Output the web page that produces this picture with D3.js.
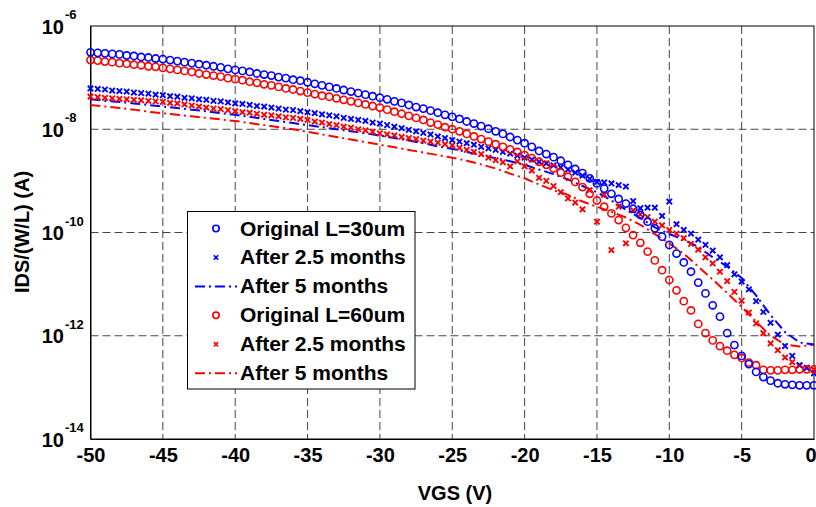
<!DOCTYPE html>
<html>
<head>
<meta charset="utf-8">
<script src="https://cdn.jsdelivr.net/npm/d3@7/dist/d3.min.js"></script>
<style>
  html, body { margin: 0; padding: 0; background: #fff; }
  svg text { font-family: "Liberation Sans", Arial, sans-serif; font-weight: bold; fill: #000; }
</style>
</head>
<body>
<svg id="chart" width="816" height="507"></svg>
<script>
// ---- Data (values are log10 of IDS/(W/L) in A) ----
const vgsHalf = [-50,-49.5,-49,-48.5,-48,-47.5,-47,-46.5,-46,-45.5,
  -45,-44.5,-44,-43.5,-43,-42.5,-42,-41.5,-41,-40.5,
  -40,-39.5,-39,-38.5,-38,-37.5,-37,-36.5,-36,-35.5,
  -35,-34.5,-34,-33.5,-33,-32.5,-32,-31.5,-31,-30.5,
  -30,-29.5,-29,-28.5,-28,-27.5,-27,-26.5,-26,-25.5,
  -25,-24.5,-24,-23.5,-23,-22.5,-22,-21.5,-21,-20.5,
  -20,-19.5,-19,-18.5,-18,-17.5,-17,-16.5,-16,-15.5,
  -15,-14.5,-14,-13.5,-13,-12.5,-12,-11.5,-11,-10.5,
  -10,-9.5,-9,-8.5,-8,-7.5,-7,-6.5,-6,-5.5,
  -5,-4.5,-4,-3.5,-3,-2.5,-2,-1.5,-1,-0.5,0];

const vgsStep = [-50,-49,-48,-47,-46,-45,-44,-43,-42,-41,
  -40,-39,-38,-37,-36,-35,-34,-33,-32,-31,
  -30,-29,-28,-27,-26,-25,-24,-23,-22,-21,
  -20,-19,-18,-17,-16,-15,-14,-13,-12,-11,
  -10,-9,-8,-7,-6,-5,-4,-3,-2,-1,0];

// L=30um, original (circles)
const origL30 = [-6.51,-6.52,-6.53,-6.54,-6.55,-6.57,-6.58,-6.60,-6.61,-6.63,
  -6.64,-6.66,-6.68,-6.70,-6.72,-6.74,-6.76,-6.78,-6.80,-6.83,
  -6.85,-6.87,-6.89,-6.92,-6.94,-6.96,-6.99,-7.01,-7.04,-7.06,
  -7.09,-7.12,-7.15,-7.18,-7.21,-7.24,-7.27,-7.30,-7.33,-7.36,
  -7.39,-7.42,-7.46,-7.49,-7.53,-7.57,-7.60,-7.64,-7.68,-7.72,
  -7.76,-7.80,-7.85,-7.89,-7.94,-7.99,-8.04,-8.09,-8.15,-8.21,
  -8.27,-8.34,-8.42,-8.48,-8.54,-8.61,-8.69,-8.77,-8.85,-8.95,
  -9.05,-9.15,-9.25,-9.35,-9.44,-9.54,-9.66,-9.79,-9.92,-10.08,
  -10.24,-10.41,-10.58,-10.76,-10.97,-11.18,-11.41,-11.63,-11.95,-12.18,
  -12.39,-12.55,-12.70,-12.80,-12.87,-12.92,-12.94,-12.95,-12.96,-12.96,-12.96];

// L=30um, after 2.5 months (crosses)
const after25L30 = [-7.21,-7.22,-7.23,-7.25,-7.26,-7.27,-7.29,-7.30,-7.31,-7.33,
  -7.34,-7.36,-7.37,-7.39,-7.40,-7.42,-7.43,-7.45,-7.46,-7.48,
  -7.50,-7.51,-7.53,-7.55,-7.56,-7.58,-7.60,-7.62,-7.63,-7.65,
  -7.67,-7.69,-7.71,-7.73,-7.75,-7.78,-7.80,-7.82,-7.84,-7.87,
  -7.89,-7.92,-7.95,-7.98,-8.01,-8.04,-8.07,-8.10,-8.14,-8.17,
  -8.21,-8.24,-8.27,-8.30,-8.34,-8.37,-8.40,-8.44,-8.47,-8.51,
  -8.55,-8.59,-8.63,-8.66,-8.70,-8.74,-8.78,-8.84,-8.90,-8.96,
  -9.02,-9.03,-9.05,-9.08,-9.11,-9.39,-9.53,-9.52,-9.52,-9.68,
  -9.40,-9.84,-9.95,-10.02,-10.14,-10.24,-10.35,-10.48,-10.63,-10.81,
  -10.95,-11.10,-11.33,-11.54,-11.75,-11.98,-12.20,-12.39,-12.57,-12.62,-12.73];

// L=30um, after 5 months (dash-dot line)
const after5L30 = [-7.42,-7.45,-7.47,-7.50,-7.53,-7.56,-7.59,-7.62,-7.65,-7.69,
  -7.72,-7.76,-7.80,-7.84,-7.88,-7.92,-7.96,-8.00,-8.04,-8.08,
  -8.12,-8.17,-8.22,-8.27,-8.33,-8.38,-8.44,-8.50,-8.56,-8.62,
  -8.69,-8.78,-8.87,-8.97,-9.10,-9.22,-9.38,-9.56,-9.72,-9.90,
  -10.03,-10.14,-10.28,-10.48,-10.66,-10.88,-11.22,-11.60,-11.93,-12.13,-12.17];

// L=60um, original (circles)
const origL60 = [-6.66,-6.67,-6.69,-6.70,-6.72,-6.73,-6.75,-6.76,-6.78,-6.79,
  -6.81,-6.83,-6.85,-6.87,-6.89,-6.92,-6.94,-6.96,-6.98,-7.01,
  -7.03,-7.05,-7.08,-7.10,-7.13,-7.15,-7.18,-7.21,-7.23,-7.26,
  -7.29,-7.32,-7.35,-7.37,-7.40,-7.43,-7.46,-7.49,-7.52,-7.55,
  -7.58,-7.62,-7.66,-7.70,-7.74,-7.78,-7.82,-7.87,-7.91,-7.96,
  -8.00,-8.04,-8.09,-8.14,-8.19,-8.24,-8.29,-8.34,-8.39,-8.44,
  -8.50,-8.56,-8.63,-8.69,-8.76,-8.84,-8.92,-9.02,-9.12,-9.25,
  -9.38,-9.50,-9.63,-9.76,-9.91,-10.05,-10.20,-10.37,-10.54,-10.73,
  -10.92,-11.12,-11.33,-11.51,-11.77,-11.95,-12.09,-12.20,-12.29,-12.37,
  -12.43,-12.52,-12.57,-12.66,-12.67,-12.67,-12.66,-12.66,-12.65,-12.65,-12.65];

// L=60um, after 2.5 months (crosses)
const after25L60 = [-7.37,-7.38,-7.39,-7.40,-7.41,-7.42,-7.43,-7.44,-7.45,-7.46,
  -7.47,-7.49,-7.50,-7.52,-7.54,-7.56,-7.58,-7.60,-7.61,-7.63,
  -7.65,-7.67,-7.68,-7.70,-7.72,-7.73,-7.75,-7.77,-7.78,-7.80,
  -7.82,-7.85,-7.87,-7.90,-7.92,-7.95,-7.97,-8.00,-8.02,-8.05,
  -8.08,-8.10,-8.12,-8.15,-8.17,-8.19,-8.22,-8.24,-8.26,-8.29,
  -8.31,-8.36,-8.40,-8.44,-8.48,-8.55,-8.60,-8.64,-8.72,-8.62,
  -8.72,-8.80,-8.94,-9.00,-9.10,-9.22,-9.34,-9.42,-9.55,-9.18,
  -9.79,-9.27,-10.34,-9.50,-10.21,-9.57,-9.65,-9.70,-9.79,-9.86,
  -9.95,-10.02,-10.11,-10.22,-10.33,-10.48,-10.60,-10.76,-10.94,-11.15,
  -11.32,-11.55,-11.76,-11.95,-12.15,-12.28,-12.42,-12.51,-12.57,-12.62,-12.66];

// L=60um, after 5 months (dash-dot line)
const after5L60 = [-7.53,-7.56,-7.59,-7.62,-7.66,-7.69,-7.72,-7.75,-7.78,-7.81,
  -7.84,-7.88,-7.92,-7.96,-8.00,-8.05,-8.10,-8.15,-8.20,-8.25,
  -8.30,-8.35,-8.40,-8.45,-8.50,-8.55,-8.61,-8.68,-8.76,-8.86,
  -8.95,-9.07,-9.18,-9.27,-9.40,-9.50,-9.60,-9.71,-9.85,-10.03,
  -10.21,-10.41,-10.66,-10.91,-11.17,-11.44,-11.73,-12.00,-12.17,-12.21,-12.17];

const xTicks = [-50,-45,-40,-35,-30,-25,-20,-15,-10,-5,0];
const yTickExps = [-6,-8,-10,-12,-14];
const legendLabels = ["Original L=30um","After 2.5 months","After 5 months",
                      "Original L=60um","After 2.5 months","After 5 months"];

// ---- Drawing ----
const svg = d3.select("#chart");
const x = d3.scaleLinear().domain([-50, 0]).range([90.5, 814]);
const y = d3.scaleLog().domain([1e-14, 1e-6]).range([439, 26]);
const BLUE = "#0000ff", RED = "#ff0000";

// grid
const grid = svg.append("g").attr("stroke", "#444").attr("stroke-width", 1)
  .attr("stroke-dasharray", "8,4").attr("fill", "none");
xTicks.slice(1, -1).forEach(t => {
  grid.append("line").attr("x1", x(t)).attr("x2", x(t)).attr("y1", y(1e-6)).attr("y2", y(1e-14));
});
yTickExps.slice(1, -1).forEach(e => {
  grid.append("line").attr("x1", x(-50)).attr("x2", x(0)).attr("y1", y(Math.pow(10, e))).attr("y2", y(Math.pow(10, e)));
});

// axes (bottom / left via d3 axes, with labels drawn separately)
const xAxis = d3.axisBottom(x).tickValues(xTicks).tickSize(0).tickFormat(d3.format("d"));
const gx = svg.append("g").attr("transform", `translate(0,${y(1e-14)})`).call(xAxis);
gx.select(".domain").attr("stroke", "#000");
gx.selectAll("text").attr("font-size", 20).attr("dy", 0).attr("y", 23)
  .text(d => d === 0 ? "0" : String(d))
  .attr("text-anchor", d => d === 0 ? "end" : "middle")
  .attr("x", d => d === 0 ? 2 : 0);

const yAxis = d3.axisLeft(y).tickValues(yTickExps.map(e => Math.pow(10, e))).tickSize(0).tickFormat("");
const gy = svg.append("g").attr("transform", `translate(${x(-50)},0)`).call(yAxis);
gy.select(".domain").attr("stroke", "#000");
yTickExps.forEach(e => {
  const yy = y(Math.pow(10, e));
  svg.append("text").attr("x", 64).attr("y", yy + 7.5).attr("text-anchor", "end")
    .attr("font-size", 20).text("10");
  svg.append("text").attr("x", 65).attr("y", yy - 7).attr("text-anchor", "start")
    .attr("font-size", 13).text(String(e));
});

// frame (top and right)
svg.append("rect").attr("x", x(-50)).attr("y", y(1e-6))
  .attr("width", x(0) - x(-50)).attr("height", y(1e-14) - y(1e-6))
  .attr("fill", "none").attr("stroke", "#000").attr("stroke-width", 1);

// series helpers
function pts(xs, logs) { return xs.map((v, i) => ({ v, i: Math.pow(10, logs[i]) })); }
const line = d3.line().x(d => x(d.v)).y(d => y(d.i));
const DASHDOT = "10,4,2,4";

function drawLine(xs, logs, color) {
  svg.append("path").datum(pts(xs, logs)).attr("d", line)
    .attr("fill", "none").attr("stroke", color).attr("stroke-width", 2)
    .attr("stroke-dasharray", DASHDOT);
}
function drawCircles(xs, logs, color) {
  svg.append("g").selectAll("circle").data(pts(xs, logs)).join("circle")
    .attr("cx", d => x(d.v)).attr("cy", d => y(d.i)).attr("r", 3.6)
    .attr("fill", "none").attr("stroke", color).attr("stroke-width", 1.6);
}
function crossPath(cx, cy, s) {
  return `M${cx - s},${cy - s}L${cx + s},${cy + s}M${cx - s},${cy + s}L${cx + s},${cy - s}`;
}
function drawCrosses(xs, logs, color) {
  svg.append("g").selectAll("path").data(pts(xs, logs)).join("path")
    .attr("d", d => crossPath(x(d.v), y(d.i), 2.7))
    .attr("fill", "none").attr("stroke", color).attr("stroke-width", 1.9);
}

drawLine(vgsStep, after5L60, RED);
drawLine(vgsStep, after5L30, BLUE);
drawCrosses(vgsHalf, after25L60, RED);
drawCrosses(vgsHalf, after25L30, BLUE);
drawCircles(vgsHalf, origL60, RED);
drawCircles(vgsHalf, origL30, BLUE);

// axis titles
svg.append("text").attr("x", 455).attr("y", 500).attr("text-anchor", "middle")
  .attr("font-size", 20).text("VGS (V)");
svg.append("text").attr("transform", "translate(29,232) rotate(-90)")
  .attr("text-anchor", "middle").attr("font-size", 20).text("IDS/(W/L) (A)");

// legend
const lg = svg.append("g");
lg.append("rect").attr("x", 187.5).attr("y", 211.5).attr("width", 227.5).attr("height", 177.5)
  .attr("fill", "#fff").attr("stroke", "#000").attr("stroke-width", 1);
const legendKinds = ["circle", "cross", "line", "circle", "cross", "line"];
const legendColors = [BLUE, BLUE, BLUE, RED, RED, RED];
legendLabels.forEach((lab, k) => {
  const cy = 228.5 + k * 28.95;
  const col = legendColors[k];
  if (legendKinds[k] === "circle") {
    lg.append("circle").attr("cx", 216).attr("cy", cy).attr("r", 3.2)
      .attr("fill", "none").attr("stroke", col).attr("stroke-width", 1.6);
  } else if (legendKinds[k] === "cross") {
    lg.append("path").attr("d", crossPath(216, cy, 2.2))
      .attr("fill", "none").attr("stroke", col).attr("stroke-width", 1.6);
  } else {
    lg.append("line").attr("x1", 195).attr("x2", 237).attr("y1", cy).attr("y2", cy)
      .attr("stroke", col).attr("stroke-width", 2).attr("stroke-dasharray", DASHDOT);
  }
  lg.append("text").attr("x", 240).attr("y", cy + 7).attr("font-size", 21).text(lab);
});
</script>
</body>
</html>
